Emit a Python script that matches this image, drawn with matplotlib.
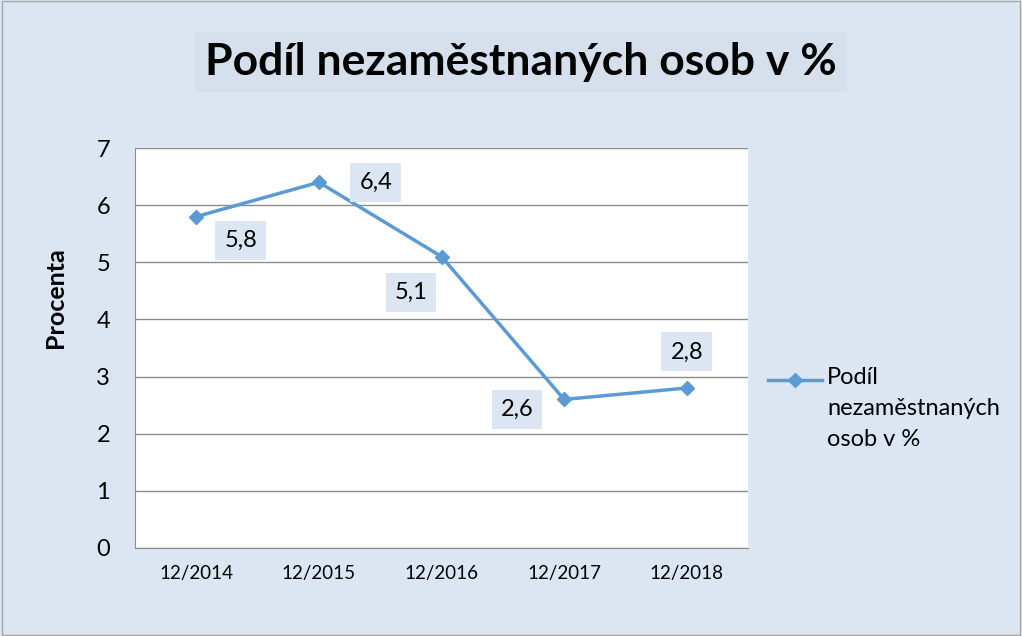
import numpy as np
import matplotlib.pyplot as plt
from matplotlib.lines import Line2D
from matplotlib.patches import Rectangle

# data
obdobi = ["12/2014", "12/2015", "12/2016", "12/2017", "12/2018"]
podil = [5.8, 6.4, 5.1, 2.6, 2.8]
popisky = ["5,8", "6,4", "5,1", "2,6", "2,8"]
nazev_rady = "Podíl\nnezaměstnaných\nosob v %"
# posun popisku (v bodech) vuci bodu
offsets = [(32, -17), (41, 0), (-22, -26), (-34, -7), (0, 26)]

BG = "#DCE6F2"
LINE = "#5B9BD5"
plt.rcParams["font.family"] = ["Lato", "DejaVu Sans"]

fig = plt.figure(figsize=(10.22, 6.36), dpi=100, facecolor=BG)
fig.patches.append(Rectangle((0.002, 0.002), 0.996, 0.996, transform=fig.transFigure,
                             fill=False, edgecolor="#A6A6A6", lw=1))

ax = fig.add_axes([135 / 1022, 1 - 548 / 636, 613 / 1022, 400 / 636])
ax.set_facecolor("white")
x = np.arange(len(obdobi))
ax.plot(x, podil, color=LINE, lw=2.5, marker="D", ms=7, zorder=3)

for xi, yi, txt, off in zip(x, podil, popisky, offsets):
    ax.annotate(txt, (xi, yi), xytext=off, textcoords="offset points",
                ha="center", va="center", fontsize=17, color="black",
                bbox=dict(boxstyle="square,pad=0.38", fc=BG, ec="none"), zorder=4)

ax.set_xlim(-0.5, len(obdobi) - 0.5)
ax.set_ylim(0, 7)
ax.set_yticks(range(0, 8))
ax.set_xticks(x)
ax.set_xticklabels(obdobi, fontsize=13.5)
ax.tick_params(axis="y", labelsize=17, length=0, pad=18)
ax.tick_params(axis="x", length=0, pad=12)
ax.yaxis.grid(True, color="#8C8C8C", lw=1)
ax.set_axisbelow(True)
for s in ["top", "right"]:
    ax.spines[s].set_visible(False)
ax.spines["left"].set_color("#8C8C8C")
ax.spines["bottom"].set_color("#8C8C8C")
ax.set_ylabel("Procenta", fontsize=18, fontweight="bold", va="center")
ax.yaxis.set_label_coords(-0.129, 0.625)

# titulek s podkladem
fig.text(521 / 1022, 1 - 62 / 636, "Podíl nezaměstnaných osob v %", ha="center", va="center",
         fontsize=32, fontweight="bold",
         bbox=dict(boxstyle="square,pad=0.22", fc="#D5E0EC", ec="none"))

# legenda (znacka u prvniho radku textu)
ly = 1 - 380 / 636
fig.add_artist(Line2D([768 / 1022, 822 / 1022], [ly, ly], transform=fig.transFigure,
                      color=LINE, lw=2.5))
fig.add_artist(Line2D([795 / 1022], [ly], transform=fig.transFigure,
                      color=LINE, marker="D", ms=7))
fig.text(827 / 1022, 1 - 367 / 636, nazev_rady, ha="left", va="top",
         fontsize=17, linespacing=1.6)

fig.savefig("out.png", dpi=100, facecolor=BG)
